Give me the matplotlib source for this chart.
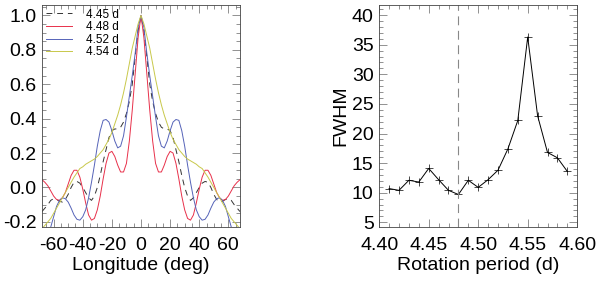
import matplotlib
matplotlib.use("Agg")
import matplotlib.pyplot as plt
from matplotlib.ticker import MultipleLocator

plt.rcParams['font.family'] = ['Liberation Sans', 'DejaVu Sans']
plt.rcParams['axes.unicode_minus'] = False

# left panel: longitude grid (deg)
lon = [-68, -66, -64, -62, -60, -58, -56, -54, -52, -50, -48, -46, -44, -42, -40,
       -38, -36, -34, -32, -30, -28, -26, -24, -22, -20, -18, -16, -14, -12, -10,
       -8, -6, -4, -2, 0, 2, 4, 6, 8, 10, 12, 14, 16, 18, 20, 22, 24, 26, 28, 30,
       32, 34, 36, 38, 40, 42, 44, 46, 48, 50, 52, 54, 56, 58, 60, 62, 64, 66, 68]

p445 = [-0.14, -0.12, -0.10, -0.075, -0.065, -0.07, -0.08, -0.085, -0.07, -0.04,
        0.0, 0.03, 0.035, 0.025, 0.0, -0.03, -0.06, -0.075, -0.05, 0.0,
        0.07, 0.15, 0.22, 0.29, 0.33, 0.34, 0.34, 0.35, 0.38, 0.43,
        0.50, 0.60, 0.76, 0.91, 1.0, 0.91, 0.76, 0.60, 0.50, 0.43,
        0.38, 0.35, 0.34, 0.34, 0.33, 0.29, 0.22, 0.15, 0.07, 0.0,
        -0.05, -0.075, -0.06, -0.03, 0.0, 0.025, 0.035, 0.03, 0.0, -0.04,
        -0.07, -0.085, -0.08, -0.07, -0.065, -0.075, -0.10, -0.12, -0.14]

p448 = [0.045, 0.03, 0.01, -0.02, -0.05, -0.07, -0.075, -0.06, -0.03, 0.02,
        0.07, 0.10, 0.10, 0.06, -0.01, -0.09, -0.16, -0.19, -0.18, -0.13,
        -0.05, 0.05, 0.14, 0.20, 0.21, 0.18, 0.13, 0.09, 0.09, 0.14,
        0.27, 0.45, 0.66, 0.87, 1.0, 0.87, 0.66, 0.45, 0.27, 0.14,
        0.09, 0.09, 0.13, 0.18, 0.21, 0.20, 0.14, 0.05, -0.05, -0.13,
        -0.18, -0.19, -0.16, -0.09, -0.01, 0.06, 0.10, 0.10, 0.07, 0.02,
        -0.03, -0.06, -0.075, -0.07, -0.05, -0.02, 0.01, 0.03, 0.045]

p452 = [-0.40, -0.35, -0.29, -0.23, -0.17, -0.11, -0.075, -0.06, -0.065, -0.085,
        -0.12, -0.16, -0.185, -0.19, -0.17, -0.13, -0.06, 0.03, 0.13, 0.24,
        0.33, 0.39, 0.395, 0.38, 0.33, 0.27, 0.23, 0.24, 0.30, 0.41,
        0.53, 0.65, 0.78, 0.93, 1.0, 0.93, 0.78, 0.65, 0.53, 0.41,
        0.30, 0.24, 0.23, 0.27, 0.33, 0.38, 0.395, 0.39, 0.33, 0.24,
        0.13, 0.03, -0.06, -0.13, -0.17, -0.19, -0.185, -0.16, -0.12, -0.085,
        -0.065, -0.06, -0.075, -0.11, -0.17, -0.23, -0.29, -0.35, -0.40]

p454 = [-0.24, -0.22, -0.20, -0.18, -0.15, -0.12, -0.09, -0.06, -0.03, 0.0,
        0.03, 0.06, 0.085, 0.11, 0.12, 0.135, 0.145, 0.155, 0.165, 0.18,
        0.20, 0.22, 0.25, 0.28, 0.32, 0.37, 0.42, 0.48, 0.55, 0.63,
        0.72, 0.81, 0.88, 0.95, 1.0, 0.95, 0.88, 0.81, 0.72, 0.63,
        0.55, 0.48, 0.42, 0.37, 0.32, 0.28, 0.25, 0.22, 0.20, 0.18,
        0.165, 0.155, 0.145, 0.135, 0.12, 0.11, 0.085, 0.06, 0.03, 0.0,
        -0.03, -0.06, -0.09, -0.12, -0.15, -0.18, -0.20, -0.22, -0.24]

# right panel
period = [4.41, 4.42, 4.43, 4.44, 4.45, 4.46, 4.47, 4.48, 4.49, 4.50,
          4.51, 4.52, 4.53, 4.54, 4.55, 4.56, 4.57, 4.58, 4.59]
fwhm = [10.7, 10.4, 12.1, 11.8, 14.1, 12.2, 10.4, 9.7, 12.1, 10.9,
        12.2, 13.8, 17.4, 22.2, 36.3, 23.0, 16.8, 15.9, 13.6]
best_period = 4.48

fig = plt.figure(figsize=(6, 2.81), dpi=100)
ax1 = fig.add_axes([0.07, 0.192, 0.33, 0.79])
ax2 = fig.add_axes([0.632, 0.192, 0.33, 0.79])

lw = 0.7
ax1.plot(lon, p445, color='#333333', lw=lw, dashes=(6, 5), label='4.45 d')
ax1.plot(lon, p448, color='#e8304a', lw=lw, label='4.48 d')
ax1.plot(lon, p452, color='#5563b8', lw=lw, label='4.52 d')
ax1.plot(lon, p454, color='#c8c84a', lw=lw, label='4.54 d')
ax1.set_xlim(-68, 68)
ax1.set_ylim(-0.23, 1.06)
ax1.xaxis.set_major_locator(MultipleLocator(20))
ax1.xaxis.set_minor_locator(MultipleLocator(5))
ax1.yaxis.set_major_locator(MultipleLocator(0.2))
ax1.yaxis.set_minor_locator(MultipleLocator(0.05))
ax1.set_xlabel('Longitude (deg)', fontsize=14, labelpad=2)
leg = ax1.legend(loc='upper left', frameon=False, fontsize=8.5, handlelength=2.2,
                 handletextpad=1.2, labelspacing=0.05, borderaxespad=0.2,
                 borderpad=0.1)

ax2.plot(period, fwhm, color='black', lw=lw, marker='+', ms=6, mew=0.5)
ax2.axvline(best_period, color='#888888', lw=0.8, dashes=(8, 5))
ax2.set_xlim(4.40, 4.60)
ax2.set_ylim(4.2, 41.7)
ax2.xaxis.set_major_locator(MultipleLocator(0.05))
ax2.xaxis.set_minor_locator(MultipleLocator(0.01))
ax2.yaxis.set_major_locator(MultipleLocator(5))
ax2.yaxis.set_minor_locator(MultipleLocator(1))
ax2.set_xlabel('Rotation period (d)', fontsize=14, labelpad=2)
ax2.set_ylabel('FWHM', fontsize=14, labelpad=2)
ax2.xaxis.set_major_formatter(plt.FormatStrFormatter('%.2f'))

for ax in (ax1, ax2):
    for s in ax.spines.values():
        s.set_linewidth(0.6)
        s.set_color('#444444')
    ax.tick_params(which='both', direction='in', top=True, right=True,
                   color='#666666', width=0.5, labelsize=14)
    ax.tick_params(which='major', length=6)
    ax.tick_params(which='minor', length=3)
    ax.tick_params(axis='x', pad=7)
    ax.tick_params(axis='y', pad=4)

fig.savefig('out.png', dpi=100)
